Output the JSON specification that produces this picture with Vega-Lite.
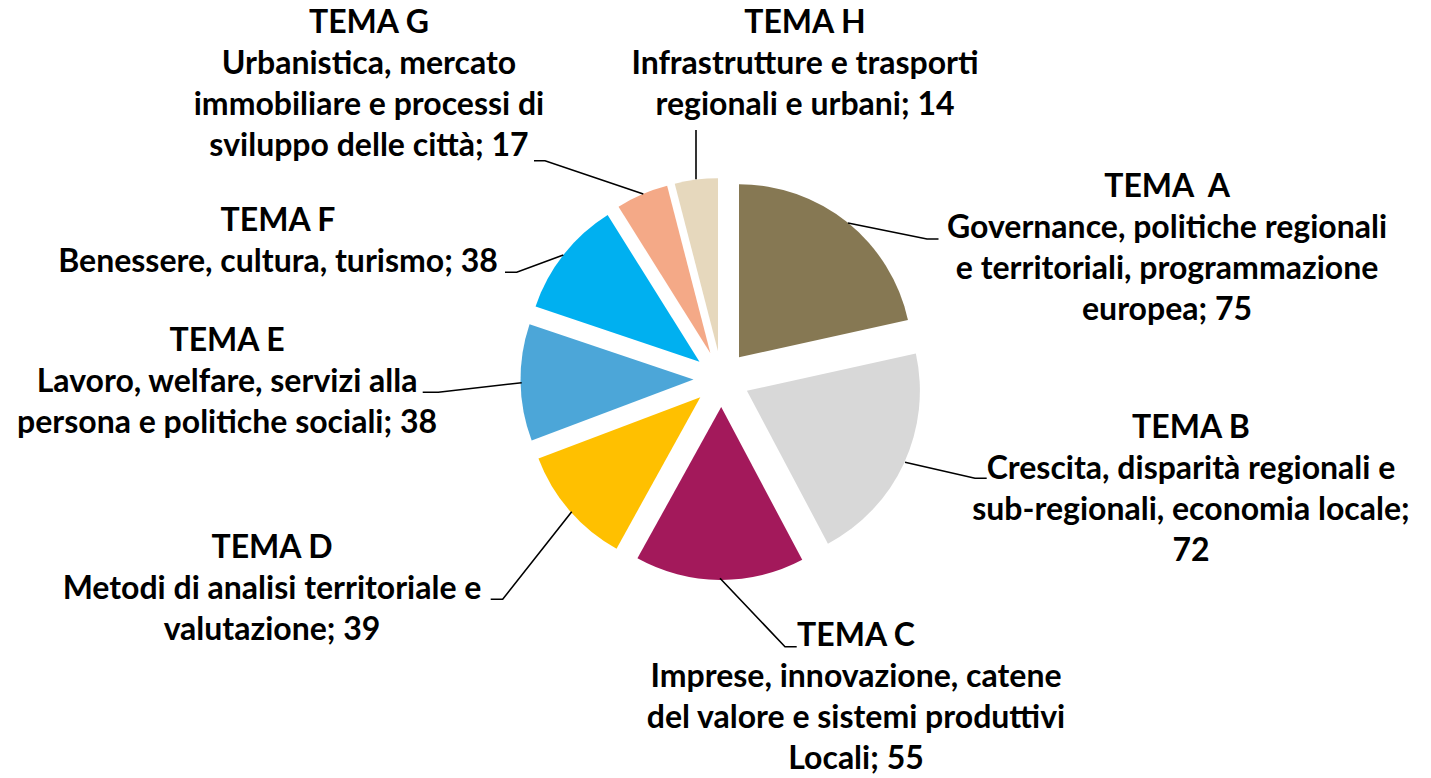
{
  "$schema": "https://vega.github.io/schema/vega-lite/v6.json",
  "autosize": {"type": "none"},
  "width": 1419,
  "height": 758,
  "padding": {"left": 12, "top": 0, "right": 0, "bottom": 20},
  "background": "white",
  "config": {"view": {"stroke": null}, "text": {"font": "Lato", "fontWeight": "bold", "fontSize": 32, "lineHeight": 41, "lineBreak": "\n", "align": "center", "baseline": "alphabetic", "color": "#000000"}},
  "data": {
    "values": [
      {"tema": "A", "value": 75, "label": "TEMA \u00a0A\nGovernance, politiche regionali\ne territoriali, programmazione\neuropea; 75"},
      {"tema": "B", "value": 72, "label": "TEMA B\nCrescita, disparità regionali e\nsub-regionali, economia locale;\n72"},
      {"tema": "C", "value": 55, "label": "TEMA C\nImprese, innovazione, catene\ndel valore e sistemi produttivi\nLocali; 55"},
      {"tema": "D", "value": 39, "label": "TEMA D\nMetodi di analisi territoriale e\nvalutazione; 39"},
      {"tema": "E", "value": 38, "label": "TEMA E\nLavoro, welfare, servizi alla\npersona e politiche sociali; 38"},
      {"tema": "F", "value": 38, "label": "TEMA F\nBenessere, cultura, turismo; 38"},
      {"tema": "G", "value": 17, "label": "TEMA G\nUrbanistica, mercato\nimmobiliare e processi di\nsviluppo delle città; 17"},
      {"tema": "H", "value": 14, "label": "TEMA H\nInfrastrutture e trasporti\nregionali e urbani; 14"}
    ]
  },
  "layer": [
    {
      "encoding": {
        "theta": {"field": "value", "type": "quantitative", "stack": true},
        "order": {"field": "tema", "sort": "ascending"},
        "detail": {"field": "tema", "type": "nominal"}
      },
      "layer": [
        {"mark": {"type": "arc", "radius": 173, "xOffset": 17.5, "yOffset": -21.8},
         "encoding": {"color": {"field": "tema", "type": "nominal", "legend": null, "scale": {"domain": ["A","B","C","D","E","F","G","H"], "range": ["#867853","#d8d8d8","#a3195b","#ffc000","#4ca6d8","#00b0f0","#f4a987","#e6d8bd"]}},
                      "opacity": {"condition": {"test": "datum.tema === 'A'", "value": 1}, "value": 0}}},
        {"mark": {"type": "arc", "radius": 173, "xOffset": 25.4, "yOffset": 11.8},
         "encoding": {"color": {"field": "tema", "type": "nominal", "legend": null},
                      "opacity": {"condition": {"test": "datum.tema === 'B'", "value": 1}, "value": 0}}},
        {"mark": {"type": "arc", "radius": 173, "xOffset": -0.3, "yOffset": 28},
         "encoding": {"color": {"field": "tema", "type": "nominal", "legend": null},
                      "opacity": {"condition": {"test": "datum.tema === 'C'", "value": 1}, "value": 0}}},
        {"mark": {"type": "arc", "radius": 173, "xOffset": -21.2, "yOffset": 18.3},
         "encoding": {"color": {"field": "tema", "type": "nominal", "legend": null},
                      "opacity": {"condition": {"test": "datum.tema === 'D'", "value": 1}, "value": 0}}},
        {"mark": {"type": "arc", "radius": 173, "xOffset": -28, "yOffset": 0.5},
         "encoding": {"color": {"field": "tema", "type": "nominal", "legend": null},
                      "opacity": {"condition": {"test": "datum.tema === 'E'", "value": 1}, "value": 0}}},
        {"mark": {"type": "arc", "radius": 173, "xOffset": -22, "yOffset": -17.3},
         "encoding": {"color": {"field": "tema", "type": "nominal", "legend": null},
                      "opacity": {"condition": {"test": "datum.tema === 'F'", "value": 1}, "value": 0}}},
        {"mark": {"type": "arc", "radius": 173, "xOffset": -11.1, "yOffset": -25.7},
         "encoding": {"color": {"field": "tema", "type": "nominal", "legend": null},
                      "opacity": {"condition": {"test": "datum.tema === 'G'", "value": 1}, "value": 0}}},
        {"mark": {"type": "arc", "radius": 173, "xOffset": -3.5, "yOffset": -27.8},
         "encoding": {"color": {"field": "tema", "type": "nominal", "legend": null},
                      "opacity": {"condition": {"test": "datum.tema === 'H'", "value": 1}, "value": 0}}},
        {"mark": {"type": "text", "radius": 220, "dx": 307.7, "dy": -10.5},
         "encoding": {"text": {"condition": {"test": "datum.tema === 'A'", "field": "label", "type": "nominal"}, "value": ""}}},
        {"mark": {"type": "text", "radius": 220, "dx": 269.8, "dy": -33.4},
         "encoding": {"text": {"condition": {"test": "datum.tema === 'B'", "field": "label", "type": "nominal"}, "value": ""}}},
        {"mark": {"type": "text", "radius": 220, "dx": 136.5, "dy": 47},
         "encoding": {"text": {"condition": {"test": "datum.tema === 'C'", "field": "label", "type": "nominal"}, "value": ""}}},
        {"mark": {"type": "text", "radius": 220, "dx": -283.1, "dy": 35.1},
         "encoding": {"text": {"condition": {"test": "datum.tema === 'D'", "field": "label", "type": "nominal"}, "value": ""}}},
        {"mark": {"type": "text", "radius": 220, "dx": -274.5, "dy": -32},
         "encoding": {"text": {"condition": {"test": "datum.tema === 'E'", "field": "label", "type": "nominal"}, "value": ""}}},
        {"mark": {"type": "text", "radius": 220, "dx": -270.8, "dy": -11.7},
         "encoding": {"text": {"condition": {"test": "datum.tema === 'F'", "field": "label", "type": "nominal"}, "value": ""}}},
        {"mark": {"type": "text", "radius": 220, "dx": -265.6, "dy": -143.9},
         "encoding": {"text": {"condition": {"test": "datum.tema === 'G'", "field": "label", "type": "nominal"}, "value": ""}}},
        {"mark": {"type": "text", "radius": 220, "dx": 111.2, "dy": -127.8},
         "encoding": {"text": {"condition": {"test": "datum.tema === 'H'", "field": "label", "type": "nominal"}, "value": ""}}}
      ]
    },
    {
      "mark": {"type": "point", "filled": false, "size": 4, "stroke": "#000000", "strokeWidth": 1.6, "opacity": 1},
      "encoding": {
        "shape": {
          "field": "tema", "type": "nominal", "legend": null,
          "scale": {
            "domain": ["A","B","C","D","E","F","G","H"],
            "range": [
              "M126.5,-156L205.5,-140L217,-140",
              "M183.5,83.3L253.5,99.3L265.2,99.3",
              "M-1.5,199.3L63.5,267.7L75.2,267.7",
              "M-149.8,132.7L-218.8,220.3L-230.8,220.3",
              "M-199.8,3.7L-283.2,13.3L-298.8,13.3",
              "M-158.2,-124L-204.8,-106.7L-216.5,-106.7",
              "M-78.2,-185L-176.5,-218.3L-187.5,-218.3",
              "M-25.5,-199.7L-25.5,-249"
            ]
          }
        }
      }
    }
  ]
}
